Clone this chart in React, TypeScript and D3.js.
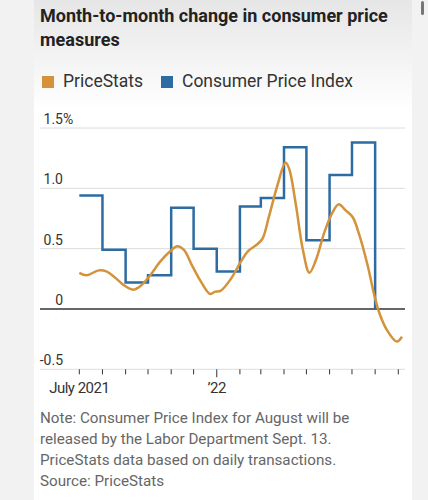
import React, { useEffect, useRef } from "react";
import * as d3 from "d3";

// CPI monthly change, drawn as a step line (value holds until next month)
const cpiMonths = [
  "2021-07-01", "2021-08-01", "2021-09-01", "2021-10-01", "2021-11-01",
  "2021-12-01", "2022-01-01", "2022-02-01", "2022-03-01", "2022-04-01",
  "2022-05-01", "2022-06-01", "2022-07-01", "2022-08-01",
];
const cpiValues = [0.94, 0.49, 0.22, 0.28, 0.84, 0.5, 0.31, 0.85, 0.92, 1.34, 0.57, 1.11, 1.38, 0.0];

// PriceStats daily-based series
const priceStatsDates = [
  "2021-07-01", "2021-07-11", "2021-07-27", "2021-08-07", "2021-08-18",
  "2021-08-29", "2021-09-11", "2021-09-21", "2021-10-04", "2021-10-17",
  "2021-10-31", "2021-11-09", "2021-11-18", "2021-11-29", "2021-12-10",
  "2021-12-23", "2021-12-30", "2022-01-06", "2022-01-20", "2022-02-02",
  "2022-02-12", "2022-02-23", "2022-03-03", "2022-03-12", "2022-03-23",
  "2022-04-03", "2022-04-08", "2022-04-17", "2022-04-26", "2022-05-05",
  "2022-05-14", "2022-05-25", "2022-06-05", "2022-06-13", "2022-06-23",
  "2022-07-02", "2022-07-11", "2022-07-22", "2022-07-31", "2022-08-07",
  "2022-08-16", "2022-08-30", "2022-09-06",
];
const priceStatsValues = [
  0.3, 0.28, 0.32, 0.31, 0.26,
  0.2, 0.16, 0.19, 0.28, 0.39,
  0.48, 0.52, 0.49, 0.36, 0.235,
  0.124, 0.144, 0.15, 0.25, 0.39,
  0.48, 0.53, 0.58, 0.77, 1.02,
  1.215, 1.16, 0.86, 0.5, 0.3,
  0.41, 0.635, 0.8, 0.867, 0.815,
  0.76, 0.61, 0.36, 0.11, -0.04,
  -0.166, -0.27, -0.23,
];

const yTicks = [-0.5, 0, 0.5, 1.0, 1.5];
const yTickLabels = ["-0.5", "0", "0.5", "1.0", "1.5"];
const xTickLabels = [
  { date: "2021-07-01", label: "July 2021" },
  { date: "2022-01-01", label: "\u201922" },
];

const noteLines = [
  "Note: Consumer Price Index for August will be",
  "released by the Labor Department Sept. 13.",
  "PriceStats data based on daily transactions.",
  "Source: PriceStats",
];

const ORANGE = "#d4933a";
const BLUE = "#2c6ca2";
const FONT = "Roboto, 'Noto Sans', sans-serif";

const App = () => {
  const ref = useRef<SVGSVGElement>(null);

  useEffect(() => {
    document.body.style.margin = "0";
    const width = 428;
    const height = 500;
    const parse = d3.timeParse("%Y-%m-%d");

    const svg = d3.select(ref.current);
    svg.selectAll("*").remove();

    // page + card background
    const defs = svg.append("defs");
    const grad = defs
      .append("linearGradient")
      .attr("id", "topShade")
      .attr("x1", 0)
      .attr("y1", 0)
      .attr("x2", 0)
      .attr("y2", 1);
    grad.append("stop").attr("offset", "0%").attr("stop-color", "#e6e6e6");
    grad.append("stop").attr("offset", "100%").attr("stop-color", "#ffffff");

    svg.append("rect").attr("width", width).attr("height", height).attr("fill", "#f2f2f2");
    svg.append("rect").attr("x", 34).attr("width", 378).attr("height", height).attr("fill", "#fff");
    svg.append("rect").attr("x", 34).attr("width", 378).attr("height", 110).attr("fill", "url(#topShade)");
    svg.append("rect").attr("x", 421).attr("y", 1).attr("width", 3).attr("height", 14).attr("rx", 1.5).attr("fill", "#777");

    // title
    svg
      .append("text")
      .attr("x", 40)
      .attr("y", 22)
      .style("font-family", FONT)
      .style("font-size", "18px")
      .style("font-weight", "bold")
      .style("fill", "#222")
      .selectAll("tspan")
      .data(["Month-to-month change in consumer price", "measures"])
      .join("tspan")
      .attr("x", 40)
      .attr("dy", (_, i) => (i === 0 ? 0 : 24))
      .text((d) => d);

    // legend
    const legend = [
      { name: "PriceStats", color: ORANGE, x: 42 },
      { name: "Consumer Price Index", color: BLUE, x: 161 },
    ];
    const lg = svg.selectAll("g.legend").data(legend).join("g").attr("class", "legend");
    lg.append("rect")
      .attr("x", (d) => d.x)
      .attr("y", 76)
      .attr("width", 12)
      .attr("height", 12)
      .attr("fill", (d) => d.color);
    lg.append("text")
      .attr("x", (d) => d.x + 21)
      .attr("y", 87)
      .style("font-family", FONT)
      .style("font-size", "17.5px")
      .style("fill", "#333")
      .text((d) => d.name);

    const x = d3
      .scaleTime()
      .domain([parse("2021-07-01")!, parse("2022-09-01")!])
      .range([79.3, 398.3]);
    const y = d3.scaleLinear().domain([-0.5, 1.5]).range([369.3, 128]);

    // gridlines
    svg
      .selectAll("line.grid")
      .data(yTicks)
      .join("line")
      .attr("class", "grid")
      .attr("x1", 40)
      .attr("x2", 405)
      .attr("y1", (d) => y(d))
      .attr("y2", (d) => y(d))
      .attr("stroke", (d) => (d === 0 ? "#333" : "#dcdcdc"))
      .attr("stroke-width", (d) => (d === 0 ? 1.3 : 1));

    // y labels
    svg
      .selectAll("text.ylab")
      .data(yTicks)
      .join("text")
      .attr("class", "ylab")
      .attr("x", 63)
      .attr("y", (d) => y(d) - 4)
      .attr("text-anchor", "end")
      .style("font-family", FONT)
      .style("font-size", "14px")
      .style("fill", "#333")
      .text((_, i) => yTickLabels[i]);
    svg
      .append("text")
      .attr("x", 63)
      .attr("y", y(1.5) - 4)
      .style("font-family", FONT)
      .style("font-size", "14px")
      .style("fill", "#333")
      .text("%");

    // month ticks
    const monthTicks = x.ticks(d3.timeMonth.every(1)!);
    svg
      .selectAll("line.xtick")
      .data(monthTicks)
      .join("line")
      .attr("class", "xtick")
      .attr("x1", (d) => x(d))
      .attr("x2", (d) => x(d))
      .attr("y1", y(-0.5))
      .attr("y2", (d) => y(-0.5) + (d.getMonth() === 0 ? 8 : 5))
      .attr("stroke", "#333")
      .attr("stroke-width", 1);

    svg
      .selectAll("text.xlab")
      .data(xTickLabels)
      .join("text")
      .attr("class", "xlab")
      .attr("x", (d) => x(parse(d.date)!))
      .attr("y", 393)
      .attr("text-anchor", "middle")
      .style("font-family", FONT)
      .style("font-size", "15px")
      .style("letter-spacing", "-0.5px")
      .style("fill", "#333")
      .text((d) => d.label);

    // CPI step line
    const cpi = cpiMonths.map((d, i) => ({ date: parse(d)!, value: cpiValues[i] }));
    svg
      .append("path")
      .datum(cpi)
      .attr("fill", "none")
      .attr("stroke", BLUE)
      .attr("stroke-width", 2.5)
      .attr(
        "d",
        d3
          .line<{ date: Date; value: number }>()
          .x((d) => x(d.date))
          .y((d) => y(d.value))
          .curve(d3.curveStepAfter)
      );

    // PriceStats smooth line
    const ps = priceStatsDates.map((d, i) => ({ date: parse(d)!, value: priceStatsValues[i] }));
    svg
      .append("path")
      .datum(ps)
      .attr("fill", "none")
      .attr("stroke", ORANGE)
      .attr("stroke-width", 2.5)
      .attr("stroke-linejoin", "round")
      .attr(
        "d",
        d3
          .line<{ date: Date; value: number }>()
          .x((d) => x(d.date))
          .y((d) => y(d.value))
          .curve(d3.curveCatmullRom.alpha(0.5))
      );

    // note
    svg
      .selectAll("text.note")
      .data(noteLines)
      .join("text")
      .attr("class", "note")
      .attr("x", 40)
      .attr("y", (_, i) => 423 + i * 21)
      .style("font-family", FONT)
      .style("font-size", "15.2px")
      .style("fill", "#666")
      .text((d) => d);
  }, []);

  return <svg ref={ref} width={428} height={500} style={{ display: "block" }} />;
};

export default App;
